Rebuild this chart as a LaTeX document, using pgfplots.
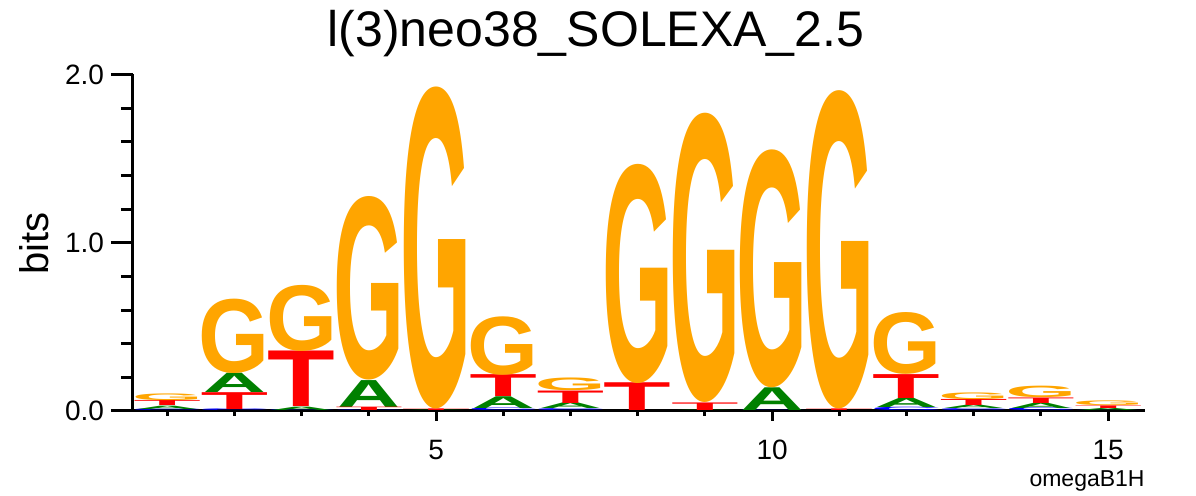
\documentclass[border=0pt]{standalone}
\usepackage{fontspec}
\setmainfont{Liberation Sans}
\usepackage{graphicx}
\usepackage{pgfplots}
\pgfplotsset{compat=1.18}
\usepackage{pgfplotstable}
\definecolor{logoG}{RGB}{255,165,0}
\definecolor{logoT}{RGB}{255,0,0}
\definecolor{logoA}{RGB}{0,128,0}
\definecolor{logoC}{RGB}{0,0,255}
\newlength\letterh

% columns: position, base of letter (bits), letter height (bits)
\pgfplotstableread{
x b h
1 0.06 0.04
2 0.225 0.445
3 0.355 0.395
4 0.183 1.097
5 0.013 1.922
6 0.215 0.35
7 0.12 0.076
8 0.165 1.31
9 0.048 1.727
10 0.138 1.422
11 0.01 1.90
12 0.217 0.37
13 0.068 0.04
14 0.08 0.069
15 0.03 0.028
}\tabG
\pgfplotstableread{
x b h
1 0.03 0.03
2 0.01 0.10
3 0.025 0.33
4 0.003 0.02
5 0.003 0.01
6 0.085 0.13
7 0.046 0.074
8 0.0 0.165
9 0.003 0.045
11 0.0 0.01
12 0.075 0.142
13 0.032 0.036
14 0.047 0.033
15 0.014 0.016
}\tabT
\pgfplotstableread{
x b h
1 0.01 0.02
2 0.11 0.115
3 0.005 0.02
4 0.023 0.16
5 0.0 0.003
6 0.015 0.07
7 0.012 0.034
9 0.0 0.003
10 0.003 0.135
12 0.02 0.055
13 0.012 0.02
14 0.016 0.031
15 0.002 0.012
}\tabA
\pgfplotstableread{
x b h
1 0.0 0.01
2 0.0 0.01
3 0.0 0.005
4 0.0 0.003
6 0.0 0.015
7 0.0 0.012
10 0.0 0.003
12 0.0 0.02
13 0.0 0.012
14 0.0 0.016
15 0.0 0.002
}\tabC

% #1 letter, #2 width, #3 colour, #4 height factor (glyph overshoot)
\pgfplotsset{
  logo letter/.style n args={4}{
    draw=none, mark=none,
    visualization depends on={\thisrow{h}\as\hval},
    nodes near coords={\pgfmathsetlength{\letterh}{\hval*84.125pt*#4}\resizebox{#2}{\letterh}{\bfseries #1}},
    every node near coord/.append style={anchor=south, inner sep=0pt, outer sep=0pt, text=#3},
  },
}

\begin{document}
\begin{tikzpicture}
\useasboundingbox (-66.5pt,-42.5pt) rectangle (531.5pt,205.5pt);
\begin{axis}[
  at={(0,0)}, anchor=south west,
  x=33.6pt, y=84.125pt,
  xmin=0.49, xmax=15.55, ymin=0, ymax=2,
  clip=false,
  axis x line*=bottom, axis y line*=left,
  axis line style={-, line width=1.5pt, black},
  every outer x axis line/.append style={-},
  every outer y axis line/.append style={-},
  tick style={line width=1.5pt, black},
  tick align=outside,
  xtick={5,10,15}, minor xtick={1,2,...,15},
  ytick={0,1,2}, minor ytick={0.2,0.4,0.6,0.8,1.2,1.4,1.6,1.8},
  major tick length=11pt, minor tick length=6pt,
  xtick style={/pgfplots/major tick length=5pt, /pgfplots/minor tick length=2.3pt},
  ticklabel style={font=\fontsize{14}{16}\selectfont},
  /pgf/number format/assume math mode=true,
  yticklabel style={/pgf/number format/.cd, fixed, fixed zerofill, precision=1},
  xticklabel style={/pgf/number format/.cd, fixed, precision=0},
]
\addplot[logo letter={C}{36pt}{logoC}{0.98}] table[x=x, y=b] {\tabC};
\addplot[logo letter={A}{31.5pt}{logoA}{1}] table[x=x, y=b] {\tabA};
\addplot[logo letter={T}{33.8pt}{logoT}{1}] table[x=x, y=b] {\tabT};
\addplot[logo letter={G}{35.5pt}{logoG}{0.98}] table[x=x, y=b] {\tabG};
\end{axis}
\node[anchor=base, font=\fontsize{25}{30}\selectfont, inner sep=0pt] at (231.5pt,182.4pt) {l(3)neo38\_SOLEXA\_2.5};
\node[rotate=90, font=\fontsize{20}{24}\selectfont, inner sep=0pt] at (-49.2pt,83.9pt) {bits};
\node[anchor=base east, font=\fontsize{11.5}{14}\selectfont, inner sep=0pt] at (506pt,-37.6pt) {omegaB1H};
\end{tikzpicture}
\end{document}
